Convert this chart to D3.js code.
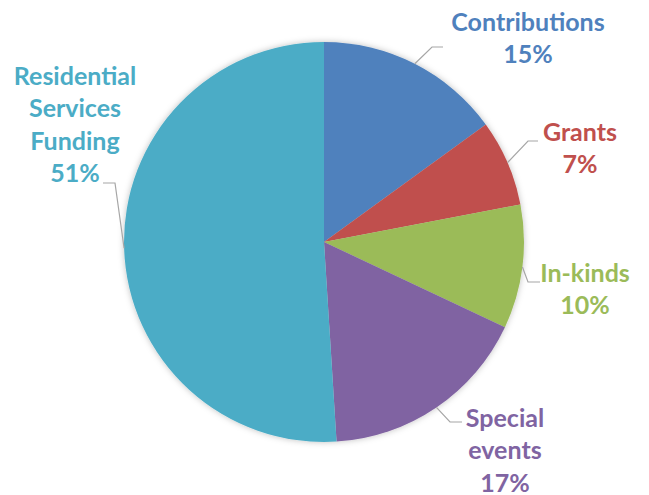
<!DOCTYPE html>
<html>
<head>
<meta charset="utf-8">
<script src="https://cdn.jsdelivr.net/npm/d3@7"></script>
<style>
  body { margin: 0; background: #fff; }
  text { font-family: Lato, "Open Sans", sans-serif; font-weight: bold; }
</style>
</head>
<body>
<svg id="chart" width="649" height="495"></svg>
<script>
// data
const categories = ["Contributions", "Grants", "In-kinds", "Special events", "Residential Services Funding"];
const shares = [15, 7, 10, 17, 51];
const labelLines = [["Contributions"], ["Grants"], ["In-kinds"], ["Special", "events"], ["Residential", "Services", "Funding"]];
const colors = ["#4F81BD", "#C0504D", "#9BBB59", "#8064A2", "#4BACC6"];

// label layout (center x, first line y, elbow, line end)
const labelLayout = [
    { x: 528, y: 22, elbow: [432, 47], end: 443 },
    { x: 580, y: 132, elbow: [528, 141], end: 538 },
    { x: 585, y: 273, elbow: [528, 282], end: 540 },
    { x: 505, y: 418, elbow: [450, 422], end: 462 },
    { x: 75, y: 76, elbow: [115, 183], end: 103 }
];

const cx = 324, cy = 242, radius = 200;
const lineH = 32.5;

const svg = d3.select("#chart");

// soft shadow like office charts
const defs = svg.append("defs");
const f = defs.append("filter").attr("id", "shadow").attr("x", "-10%").attr("y", "-10%").attr("width", "120%").attr("height", "120%");
f.append("feDropShadow").attr("dx", 0).attr("dy", 0).attr("stdDeviation", 3).attr("flood-color", "#000").attr("flood-opacity", 0.25);

const pie = d3.pie().sort(null).value(d => d)(shares);
const arc = d3.arc().innerRadius(0).outerRadius(radius);

const g = svg.append("g").attr("transform", `translate(${cx},${cy})`);
g.append("g").attr("filter", "url(#shadow)")
    .selectAll("path")
    .data(pie)
    .enter().append("path")
    .attr("d", arc)
    .attr("fill", (d, i) => colors[i]);

// leader lines
pie.forEach((d, i) => {
    const mid = (d.startAngle + d.endAngle) / 2;
    const px = cx + radius * Math.sin(mid);
    const py = cy - radius * Math.cos(mid);
    const L = labelLayout[i];
    svg.append("polyline")
        .attr("points", `${px},${py} ${L.elbow[0]},${L.elbow[1]} ${L.end},${L.elbow[1]}`)
        .attr("fill", "none")
        .attr("stroke", "#A6A6A6")
        .attr("stroke-width", 1.2);
});

// labels
categories.forEach((c, i) => {
    const L = labelLayout[i];
    const lines = labelLines[i].concat([shares[i] + "%"]);
    const t = svg.append("text")
        .attr("text-anchor", "middle")
        .attr("fill", colors[i])
        .attr("font-size", 25);
    lines.forEach((s, j) => {
        t.append("tspan")
            .attr("x", L.x)
            .attr("y", L.y + j * lineH)
            .attr("dy", "0.34em")
            .text(s);
    });
});
</script>
</body>
</html>
